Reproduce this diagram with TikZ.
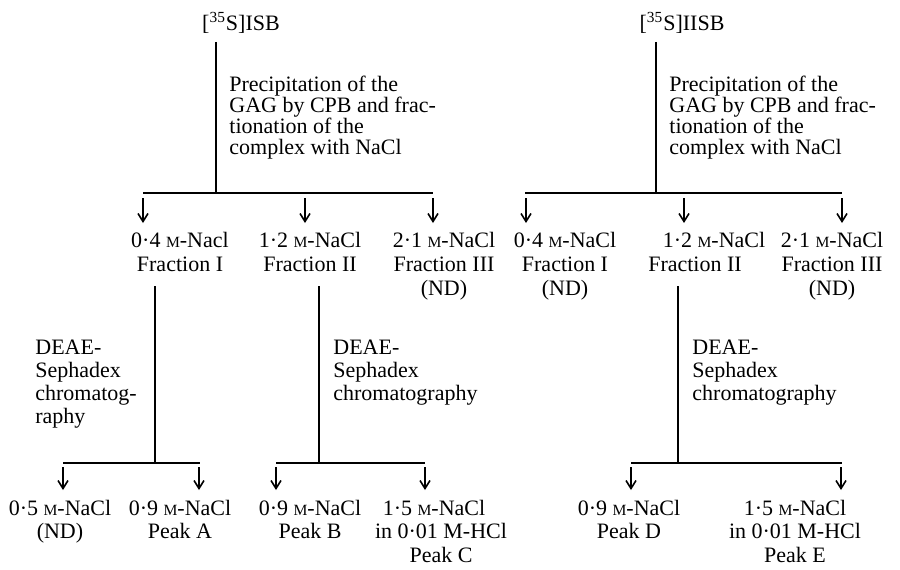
\documentclass[tikz,border=0pt]{standalone}
\usepackage{fontspec}
\setmainfont{Liberation Serif}
\usepackage{tikz}
\usetikzlibrary{arrows.meta}
\newcommand{\molar}{{\fontsize{7.8}{8}\selectfont M}}
\newcommand{\sulf}{[\textsuperscript{35}S]}

\begin{document}
\begin{tikzpicture}[x=0.5pt, y=-0.5pt,
    every node/.style={inner sep=0pt, font=\fontsize{11}{12}\selectfont},
    frac/.style={anchor=north, align=center},
    peak/.style={anchor=north, align=center, font=\fontsize{11}{11.6}\selectfont},
    proc/.style={anchor=north west, align=left, font=\fontsize{11}{10.5}\selectfont},
    chrom/.style={anchor=north west, align=left, font=\fontsize{11}{11.5}\selectfont},
    stem/.style={line width=0.8pt},
    drop/.style={stem, -{Straight Barb[length=4pt,width=5pt]}}]
  \useasboundingbox (0,0) rectangle (900,569);

  \node (isb)  at (241,23) {\sulf ISB};
  \node (iisb) at (682,23) {\sulf IISB};
  \node[proc] (precI)  at (229,76) {Precipitation of the\\GAG by CPB and frac-\\tionation of the\\complex with NaCl};
  \node[proc] (precII) at (669,76) {Precipitation of the\\GAG by CPB and frac-\\tionation of the\\complex with NaCl};

  \node[frac] (fracIa)   at (180,232) {0·4 \molar-Nacl\\Fraction I};
  \node[frac] (fracIIa)  at (310,232) {1·2 \molar-NaCl\\Fraction II};
  \node[frac] (fracIIIa) at (444,232) {2·1 \molar-NaCl\\Fraction III\\(ND)};
  \node[frac] (fracIb)   at (565,232) {0·4 \molar-NaCl\\Fraction I\\(ND)};
  \node[frac] (fracIIb)  at (695,232) {\hspace*{19pt}1·2 \molar-NaCl\\Fraction II};
  \node[frac] (fracIIIb) at (832,232) {2·1 \molar-NaCl\\Fraction III\\(ND)};

  \node[chrom] (chromA) at (35,340)  {DEAE-\\Sephadex\\chromatog-\\raphy};
  \node[chrom] (chromB) at (333,340) {DEAE-\\Sephadex\\chromatography};
  \node[chrom] (chromC) at (692,340) {DEAE-\\Sephadex\\chromatography};

  \node[peak] (peakN) at (60,500)  {0·5 \molar-NaCl\\(ND)};
  \node[peak] (peakA) at (180,500) {0·9 \molar-NaCl\\Peak A};
  \node[peak] (peakB) at (310,500) {0·9 \molar-NaCl\\Peak B};
  \node[peak] (peakC) at (441,500) {1·5 \molar-NaCl\hspace*{7pt}\\in 0·01 M-HCl\\Peak C};
  \node[peak] (peakD) at (629,500) {0·9 \molar-NaCl\\Peak D};
  \node[peak] (peakE) at (795,500) {1·5 \molar-NaCl\\in 0·01 M-HCl\\Peak E};

  \coordinate (forkI)  at (216,193);
  \coordinate (forkII) at (656,193);
  \coordinate (forkA)  at (155,463);
  \coordinate (forkB)  at (319,463);
  \coordinate (forkC)  at (678,463);

  \draw[stem, shorten <=4pt] (isb.south -| forkI) -- (forkI);
  \draw[stem, shorten <=4pt] (iisb.south -| forkII) -- (forkII);
  \draw[stem] (forkI -| 143,0) -- (forkI -| 433,0);
  \draw[stem] (forkII -| 525,0) -- (forkII -| 842,0);
  \foreach \x/\n in {143/fracIa,305/fracIIa,433/fracIIIa,526/fracIb,684/fracIIb,842/fracIIIb}
    \draw[drop, shorten <=2.5pt, shorten >=4.5pt] (forkI -| \x,0) -- (\n.north -| \x,0);

  \draw[stem, shorten <=7pt] (fracIa.south -| forkA) -- (forkA);
  \draw[stem, shorten <=7pt] (fracIIa.south -| forkB) -- (forkB);
  \draw[stem, shorten <=7pt] (fracIIb.south -| forkC) -- (forkC);
  \draw[stem] (forkA -| 63,0) -- (forkA -| 200,0);
  \draw[stem] (forkB -| 276,0) -- (forkB -| 425,0);
  \draw[stem] (forkC -| 631,0) -- (forkC -| 842,0);
  \foreach \x/\n in {63/peakN,199/peakA,276/peakB,425/peakC,631/peakD,841/peakE}
    \draw[drop, shorten <=2pt, shorten >=5pt] (forkA -| \x,0) -- (\n.north -| \x,0);
\end{tikzpicture}
\end{document}
